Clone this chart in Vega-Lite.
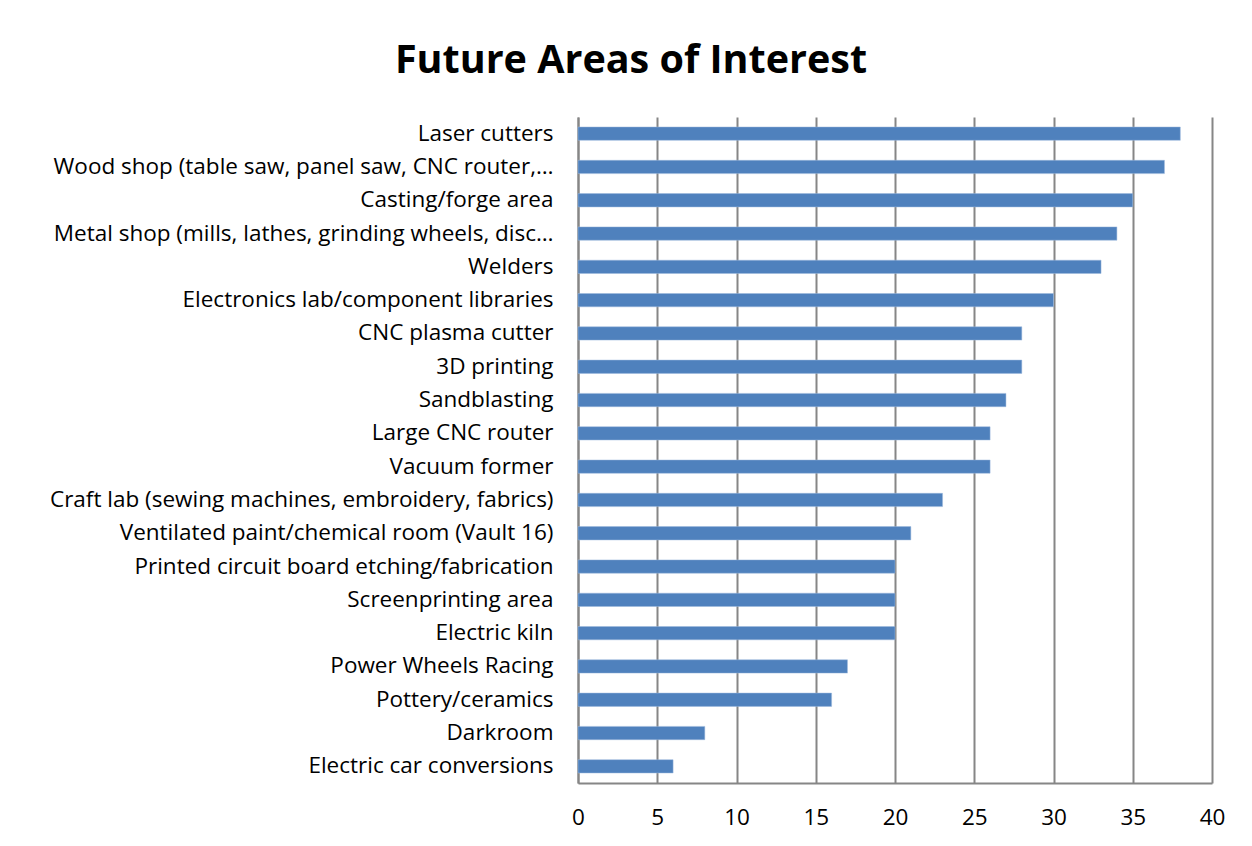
{
  "$schema": "https://vega.github.io/schema/vega-lite/v6.json",
  "width": 634,
  "height": 666,
  "autosize": {"type": "none"},
  "padding": {"left": 578, "top": 117, "right": 40, "bottom": 63},
  "background": "white",
  "title": {
    "text": "Future Areas of Interest",
    "font": "Open Sans",
    "fontSize": 39.5,
    "fontWeight": "bold",
    "color": "#000000",
    "anchor": "middle",
    "dx": -264,
    "offset": 36
  },
  "data": {
    "values": [
      {"area": "Laser cutters", "count": 38},
      {"area": "Wood shop (table saw, panel saw, CNC router,…", "count": 37},
      {"area": "Casting/forge area", "count": 35},
      {"area": "Metal shop (mills, lathes, grinding wheels, disc…", "count": 34},
      {"area": "Welders", "count": 33},
      {"area": "Electronics lab/component libraries", "count": 30},
      {"area": "CNC plasma cutter", "count": 28},
      {"area": "3D printing", "count": 28},
      {"area": "Sandblasting", "count": 27},
      {"area": "Large CNC router", "count": 26},
      {"area": "Vacuum former", "count": 26},
      {"area": "Craft lab (sewing machines, embroidery, fabrics)", "count": 23},
      {"area": "Ventilated paint/chemical room (Vault 16)", "count": 21},
      {"area": "Printed circuit board etching/fabrication", "count": 20},
      {"area": "Screenprinting area", "count": 20},
      {"area": "Electric kiln", "count": 20},
      {"area": "Power Wheels Racing", "count": 17},
      {"area": "Pottery/ceramics", "count": 16},
      {"area": "Darkroom", "count": 8},
      {"area": "Electric car conversions", "count": 6}
    ]
  },
  "mark": {"type": "bar", "color": "#4F81BD", "stroke": "#9DB9DD", "strokeWidth": 0.5},
  "encoding": {
    "y": {
      "field": "area",
      "type": "nominal",
      "sort": null,
      "scale": {"paddingInner": 0.6, "paddingOuter": 0.3},
      "axis": {
        "title": null,
        "ticks": false,
        "domain": true,
        "domainColor": "#868686",
        "domainWidth": 2,
        "labelFont": "Open Sans",
        "labelFontSize": 22.5,
        "labelColor": "#000000",
        "labelPadding": 25,
        "labelLimit": 0
      }
    },
    "x": {
      "field": "count",
      "type": "quantitative",
      "scale": {"domain": [0, 40], "nice": false},
      "axis": {
        "title": null,
        "values": [0, 5, 10, 15, 20, 25, 30, 35, 40],
        "ticks": false,
        "grid": true,
        "gridColor": "#868686",
        "gridWidth": 2,
        "domainColor": "#868686",
        "domainWidth": 2,
        "labelFont": "Open Sans",
        "labelFontSize": 22.5,
        "labelColor": "#000000",
        "labelPadding": 23,
        "labelFlush": false
      }
    }
  },
  "config": {"view": {"stroke": null}}
}
